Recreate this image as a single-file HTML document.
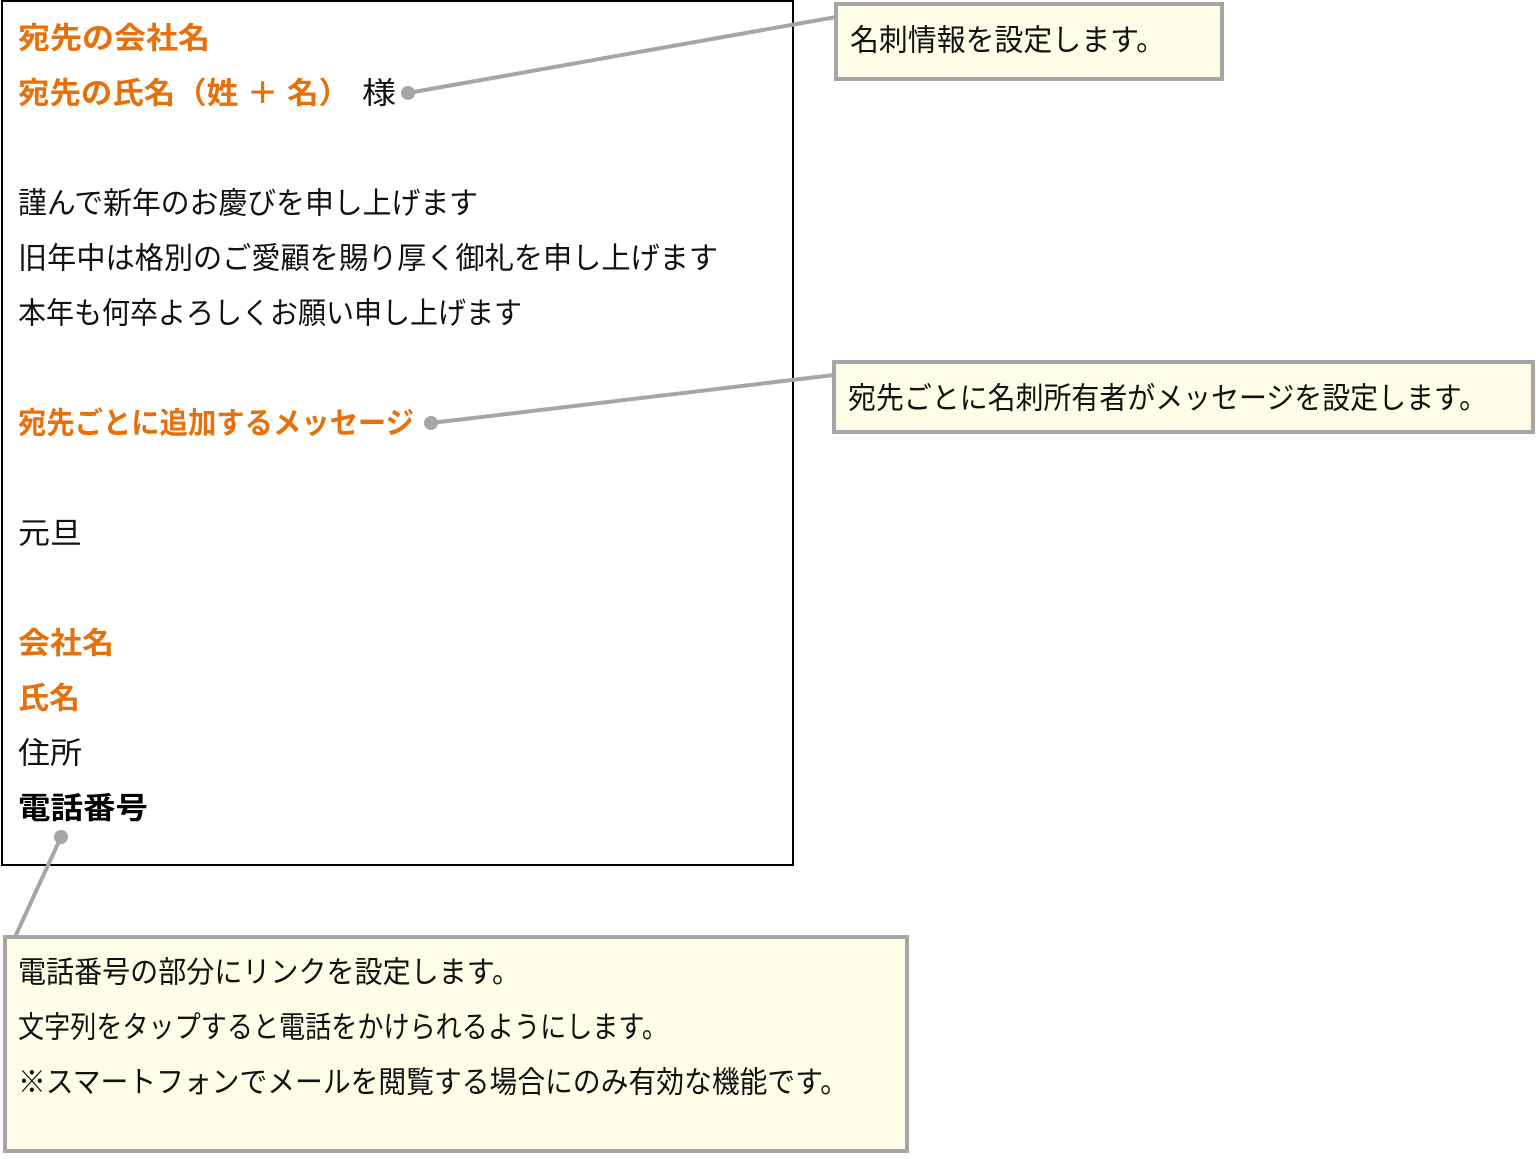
<!DOCTYPE html>
<html><head><meta charset="utf-8"><style>
html,body{margin:0;padding:0;background:#fff;}
svg text{font-family:"Liberation Sans","Noto Sans CJK JP",sans-serif;font-size:30px;dominant-baseline:central;}
.o{fill:#e8700a;font-weight:bold;}
.b{fill:#000;font-weight:bold;}
.n{fill:#111;}
</style></head><body>
<svg width="1536" height="1154" viewBox="0 0 1536 1154" xmlns="http://www.w3.org/2000/svg">
<rect x="2" y="1" width="791" height="864" fill="#fff" stroke="#000" stroke-width="2"/>
<text x="18" y="39" class="o" textLength="192" lengthAdjust="spacingAndGlyphs">宛先の会社名</text>
<text x="18" y="94" class="o" textLength="332" lengthAdjust="spacingAndGlyphs">宛先の氏名（姓 ＋ 名）</text>
<text x="362" y="94" class="n" textLength="34" lengthAdjust="spacingAndGlyphs">様</text>
<text x="18" y="204" class="n" textLength="460" lengthAdjust="spacingAndGlyphs">謹んで新年のお慶びを申し上げます</text>
<text x="18" y="259" class="n" textLength="700" lengthAdjust="spacingAndGlyphs">旧年中は格別のご愛顧を賜り厚く御礼を申し上げます</text>
<text x="18" y="314" class="n" textLength="504" lengthAdjust="spacingAndGlyphs">本年も何卒よろしくお願い申し上げます</text>
<text x="18" y="424" class="o" textLength="396" lengthAdjust="spacingAndGlyphs">宛先ごとに追加するメッセージ</text>
<text x="18" y="534" class="n" textLength="64" lengthAdjust="spacingAndGlyphs">元旦</text>
<text x="18" y="644" class="o" textLength="96" lengthAdjust="spacingAndGlyphs">会社名</text>
<text x="18" y="699" class="o" textLength="62" lengthAdjust="spacingAndGlyphs">氏名</text>
<text x="18" y="754" class="n" textLength="64" lengthAdjust="spacingAndGlyphs">住所</text>
<text x="18" y="809" class="b" textLength="130" lengthAdjust="spacingAndGlyphs">電話番号</text>

<g stroke="#a6a6a6" stroke-width="4" fill="none">
<line x1="408" y1="93" x2="836" y2="17"/>
<line x1="431" y1="423" x2="834" y2="375"/>
<line x1="61" y1="837" x2="15" y2="937"/>
</g>
<g fill="#a6a6a6">
<circle cx="408" cy="93" r="7"/>
<circle cx="431" cy="423" r="7"/>
<circle cx="61" cy="837" r="7"/>
</g>

<rect x="836" y="4" width="386" height="75" fill="#fffde8" stroke="#a6a6a6" stroke-width="4"/>
<text x="850" y="41" class="n" textLength="315" lengthAdjust="spacingAndGlyphs">名刺情報を設定します。</text>

<rect x="834" y="362" width="699" height="70" fill="#fffde8" stroke="#a6a6a6" stroke-width="4"/>
<text x="848" y="399" class="n" textLength="639" lengthAdjust="spacingAndGlyphs">宛先ごとに名刺所有者がメッセージを設定します。</text>

<rect x="5" y="937" width="902" height="214" fill="#fffde8" stroke="#a6a6a6" stroke-width="4"/>
<text x="18" y="973" class="n" textLength="502" lengthAdjust="spacingAndGlyphs">電話番号の部分にリンクを設定します。</text>
<text x="18" y="1028" class="n" textLength="650" lengthAdjust="spacingAndGlyphs">文字列をタップすると電話をかけられるようにします。</text>
<text x="18" y="1083" class="n" textLength="830" lengthAdjust="spacingAndGlyphs">※スマートフォンでメールを閲覧する場合にのみ有効な機能です。</text>
</svg>
</body></html>
